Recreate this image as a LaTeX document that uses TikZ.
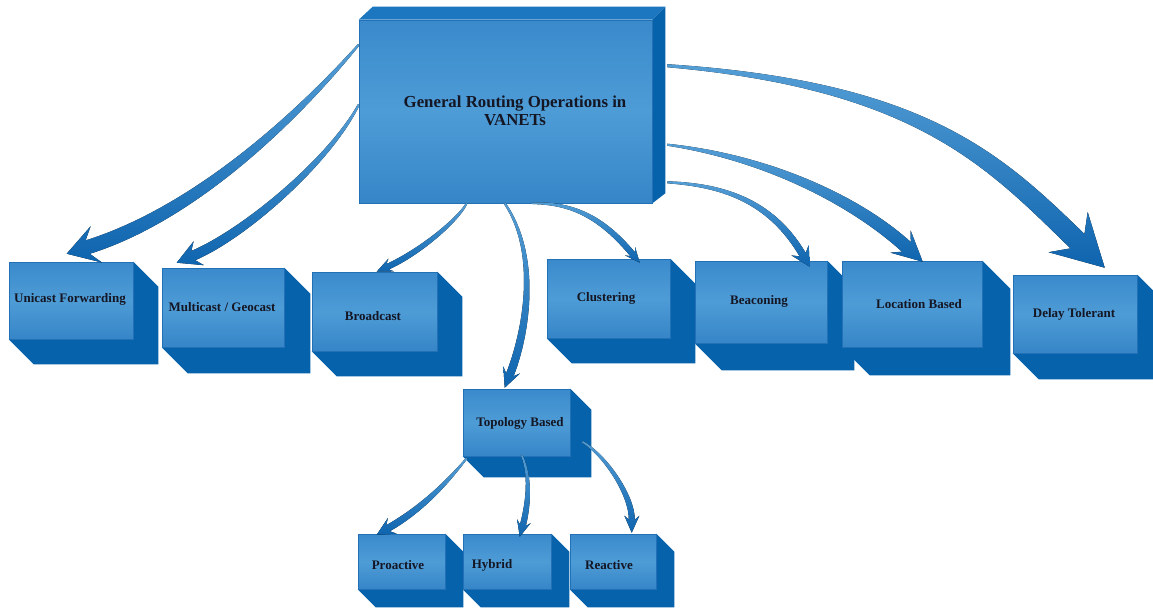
\documentclass[tikz,border=0pt]{standalone}
\usepackage{fontspec}
\setmainfont{Liberation Serif}
\usetikzlibrary{calc,backgrounds}

\definecolor{faceTop}{RGB}{58,138,204}
\definecolor{faceMid}{RGB}{78,156,214}
\definecolor{faceBot}{RGB}{54,133,199}
\definecolor{faceEdge}{RGB}{34,112,182}
\definecolor{sideDark}{RGB}{6,98,170}
\definecolor{topFace}{RGB}{28,118,192}
\definecolor{arrowLight}{RGB}{84,158,214}
\definecolor{arrowDark}{RGB}{14,100,174}
\definecolor{labelInk}{RGB}{20,22,35}

\tikzset{
  frontface/.style={rectangle, inner sep=0pt, draw=faceEdge, line width=0.6pt,
    top color=faceTop, bottom color=faceBot, middle color=faceMid},
  sideface/.style={fill=sideDark},
  boxlabel/.style={font=\bfseries\fontsize{13}{15}\selectfont, text=labelInk, inner sep=0pt},
  mainlabel/.style={font=\bfseries\fontsize{16.8}{18}\selectfont, text=labelInk,
    align=center, inner sep=0pt},
  flowfill/.style={top color=arrowLight, bottom color=arrowDark},
}

% 3D block: name, left, top, right, bottom, depth (extruded down-right)
\newcommand\blockbox[6]{%
  \pgfmathsetmacro\bbw{#4-#2}\pgfmathsetmacro\bbh{#5-#3}%
  \node[frontface, minimum width=\bbw pt, minimum height=\bbh pt] (#1)
    at ({(#2+#4)/2},{(#3+#5)/2}) {};
  \begin{scope}[on background layer]
    \fill[sideface] (#1.north east) -- ++(#6,#6) -- ($(#1.south east)+(#6,#6)$)
      -- ($(#1.south west)+(#6,#6)$) -- (#1.south west) -- (#1.south east) -- cycle;
  \end{scope}
}

% tapered curved arrow: start, control 1, control 2, tip,
% start half-width, end half-width, head length, head half-width, barb sweep
\newcommand\flowarrow[9]{%
  \coordinate (fs) at (#1); \coordinate (fa) at (#2);
  \coordinate (fb) at (#3); \coordinate (ft) at (#4);
  \pgfmathsetmacro\fmid{(#5+#6)/2}\pgfmathsetmacro\fback{#7+#9}%
  \coordinate (fe) at ($(ft)!#7pt!(fb)$);
  \coordinate (fw) at ($(ft)!\fback pt!(fb)$);
  \fill[flowfill] ($(fs)!#5pt!-90:(fa)$)
    .. controls ($(fa)!\fmid pt!-90:(fb)$) and ($(fb)!#6pt!-90:(fe)$) .. ($(fe)!#6pt!90:(fb)$)
    -- ($(fw)!#8pt!90:(fb)$) -- (ft) -- ($(fw)!#8pt!-90:(fb)$) -- ($(fe)!#6pt!-90:(fb)$)
    .. controls ($(fb)!#6pt!90:(fe)$) and ($(fa)!\fmid pt!90:(fb)$) .. ($(fs)!#5pt!90:(fa)$)
    -- cycle;
}

\begin{document}
\begin{tikzpicture}[x=1pt, y=-1pt]
  \useasboundingbox (0,0) rectangle (1153,608);
  \begin{scope}[on background layer]
    \fill[white] (0,0) rectangle (1153,608);
  \end{scope}

  % root block, extruded up-right
  \node[frontface, minimum width=293pt, minimum height=183pt] (main) at (505.5,111.5) {};
  \begin{scope}[on background layer]
    \fill[topFace] (main.north west) -- ++(14,-13) -- ($(main.north east)+(13,-13)$)
      -- (main.north east) -- cycle;
    \fill[sideDark] (main.north east) -- ++(13,-13) -- ($(main.south east)+(13,-10)$)
      -- (main.south east) -- cycle;
  \end{scope}
  \node[mainlabel] (main-t) at (515,111) {General Routing Operations in\\VANETs};

  % first level
  \blockbox{uni}{9}{262}{133}{339}{25}
  \blockbox{multi}{162}{268}{284}{347}{26}
  \blockbox{broad}{312}{272}{437}{351}{25}
  \blockbox{clus}{547}{259}{670}{338}{25}
  \blockbox{beac}{695}{261}{827}{343}{27}
  \blockbox{loc}{842}{261}{982}{347}{28}
  \blockbox{delay}{1013}{275}{1137}{353}{26}
  \blockbox{topo}{463}{389}{570}{456}{21}
  % second level
  \blockbox{pro}{358}{534}{445}{589}{18}
  \blockbox{hyb}{463}{534}{551}{589}{18}
  \blockbox{rea}{570}{534}{656}{589}{18}

  \node[boxlabel] (uni-t)   at (70,299)   {Unicast Forwarding};
  \node[boxlabel] (multi-t) at (222,307)  {Multicast / Geocast};
  \node[boxlabel] (broad-t) at (373,316)  {Broadcast};
  \node[boxlabel] (clus-t)  at (606,298)  {Clustering};
  \node[boxlabel] (beac-t)  at (759,301)  {Beaconing};
  \node[boxlabel] (loc-t)   at (919,304)  {Location Based};
  \node[boxlabel] (delay-t) at (1074,314) {Delay Tolerant};
  \node[boxlabel] (topo-t)  at (520,423)  {Topology Based};
  \node[boxlabel] (pro-t)   at (398,565)  {Proactive};
  \node[boxlabel] (hyb-t)   at (492,565)  {Hybrid};
  \node[boxlabel] (rea-t)   at (609,565)  {Reactive};

  % connectors from the root
  \flowarrow{$(main.north west)+(0,25)$}{290,125}{190,215}{$(uni.north west)+(58,-8)$}{1}{7}{22}{19}{9}
  \flowarrow{$(main.north west)+(0,85)$}{330,160}{246,233}{$(multi.north west)+(15,-5)$}{1}{5}{18}{13}{6}
  \flowarrow{$(main.south west)+(108,0)$}{458,220}{420,252}{$(broad.north west)+(65,0)$}{0.8}{3}{12}{7}{4}
  \flowarrow{$(main.south west)+(146,0)$}{540,255}{526,334}{$(topo.north west)+(42,-1)$}{1}{4}{14}{9}{5}
  \flowarrow{$(main.south west)+(174,0)$}{570,203}{600,215}{$(clus.north west)+(93,4)$}{0.8}{3}{11}{6.5}{4}
  \flowarrow{$(main.south east)+(15,-21)$}{720,185}{770,199}{$(beac.north west)+(115,6)$}{1}{3.5}{14}{10}{5}
  \flowarrow{$(main.north east)+(15,125)$}{770,158}{857,202}{$(loc.north west)+(81,1)$}{1}{6.5}{22}{15}{8}
  \flowarrow{$(main.north east)+(15,46)$}{920,85}{994,160}{$(delay.north west)+(92,-7)$}{1.5}{10}{38}{28}{13}

  % connectors below Topology Based
  \flowarrow{$(topo.south west)+(4,2)$}{445,485}{420,510}{$(pro.north west)+(19,1)$}{0.8}{3.5}{13}{9}{5}
  \flowarrow{$(topo.south west)+(59,-1)$}{532,478}{527,510}{$(hyb.north west)+(57,3)$}{0.8}{3}{12}{7}{4}
  \flowarrow{$(topo.north east)+(12,53)$}{605,455}{632,495}{$(rea.north west)+(62,-1)$}{0.8}{3}{13}{7.5}{4}
\end{tikzpicture}
\end{document}
